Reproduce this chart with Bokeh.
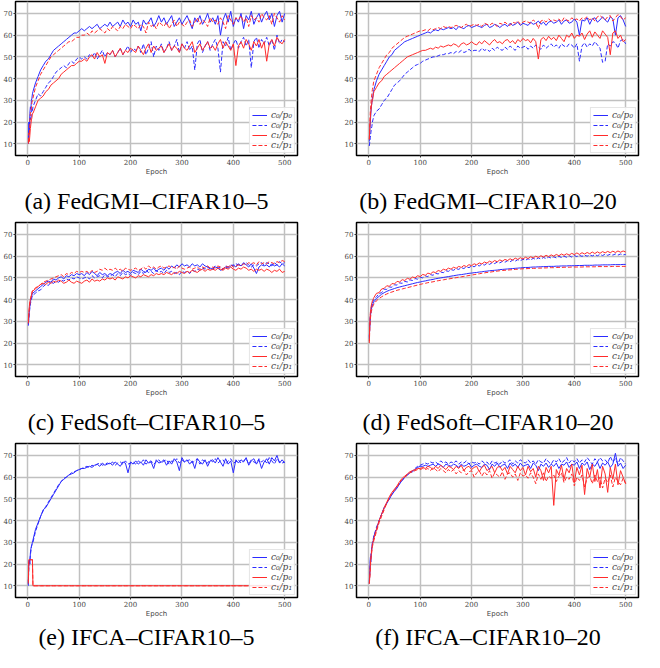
from bokeh.plotting import figure
from bokeh.layouts import column, row
from bokeh.models import Range1d, FixedTicker, Div
from bokeh.embed import file_html
from bokeh.resources import INLINE

EPOCHS = [1, 2, 3, 4, 5, 6, 7, 8, 9] + list(range(10, 501, 5))
Y_TICKS = [10, 20, 30, 40, 50, 60, 70]
X_TICKS = [0, 100, 200, 300, 400, 500]
SERIES_NAMES = ["c\u2080/p\u2080", "c\u2080/p\u2081", "c\u2081/p\u2080", "c\u2081/p\u2081"]
CAPTIONS = ["(a) FedGMI\u2013CIFAR10\u20135", "(b) FedGMI\u2013CIFAR10\u201320",
            "(c) FedSoft\u2013CIFAR10\u20135", "(d) FedSoft\u2013CIFAR10\u201320",
            "(e) IFCA\u2013CIFAR10\u20135", "(f) IFCA\u2013CIFAR10\u201320"]

# (a) FedGMI-CIFAR10-5
A_C0P0 = [12, 20, 17, 24, 27, 26, 30, 31, 33,
          34, 38, 41, 44, 46, 48, 49, 51, 53, 54,
          55, 56, 57, 58, 59, 60, 61, 61, 62, 63,
          62, 63, 64, 63, 64, 65, 63, 64, 65, 64,
          66, 64, 65, 66, 64, 67, 65, 66, 64, 67,
          65, 66, 62, 67, 65, 66, 68, 64, 66, 69,
          66, 68, 65, 67, 69, 64, 66, 68, 65, 67,
          69, 66, 63, 68, 66, 69, 65, 67, 70, 66,
          68, 65, 69, 60, 67, 70, 66, 71, 64, 68,
          66, 70, 63, 69, 67, 71, 65, 68, 70, 66,
          69, 71, 67, 70, 64, 69, 71, 66, 70]
A_C0P1 = [10, 13, 16, 19, 22, 21, 24, 26, 25,
          27, 30, 33, 32, 34, 36, 38, 39, 41, 43,
          44, 45, 46, 45, 47, 48, 47, 49, 50, 49,
          50, 49, 51, 50, 52, 49, 51, 53, 50, 52,
          51, 53, 50, 52, 54, 51, 53, 55, 52, 54,
          53, 55, 52, 56, 51, 54, 57, 50, 55, 53,
          56, 52, 54, 57, 53, 55, 58, 52, 56, 54,
          57, 53, 55, 44, 56, 58, 52, 55, 57, 53,
          56, 58, 54, 43, 57, 55, 59, 53, 56, 58,
          54, 57, 59, 55, 58, 45, 57, 59, 54, 58,
          56, 59, 55, 58, 53, 60, 56, 58, 57]
A_C1P0 = [10, 12, 11, 14, 17, 19, 21, 22, 24,
          24, 27, 30, 31, 32, 34, 35, 37, 38, 39,
          40, 42, 43, 44, 45, 46, 46, 47, 48, 48,
          49, 48, 50, 51, 49, 52, 50, 51, 47, 52,
          51, 53, 50, 52, 54, 51, 53, 52, 54, 53,
          52, 55, 53, 51, 54, 56, 52, 55, 53, 54,
          55, 52, 54, 56, 53, 55, 54, 52, 56, 54,
          53, 55, 57, 52, 54, 56, 53, 55, 57, 54,
          55, 53, 56, 58, 54, 57, 55, 53, 56, 46,
          55, 57, 54, 58, 56, 53, 57, 55, 58, 54,
          57, 48, 56, 58, 55, 59, 57, 56, 58]
A_C1P1 = [11, 15, 14, 20, 24, 25, 27, 29, 30,
          31, 36, 39, 42, 44, 46, 48, 50, 51, 52,
          53, 54, 55, 56, 57, 57, 58, 59, 59, 60,
          60, 61, 60, 62, 61, 62, 63, 62, 61, 63,
          62, 64, 63, 62, 64, 63, 65, 64, 63, 65,
          64, 63, 65, 64, 61, 66, 64, 65, 63, 66,
          65, 64, 66, 63, 65, 67, 64, 66, 65, 64,
          66, 67, 64, 66, 68, 65, 67, 66, 64, 68,
          66, 67, 65, 68, 66, 63, 69, 67, 65, 68,
          67, 69, 66, 68, 64, 69, 67, 68, 66, 70,
          68, 67, 69, 65, 70, 68, 66, 69, 67]

# (b) FedGMI-CIFAR10-20
B_C0P0 = [11, 16, 20, 24, 27, 29, 31, 32, 34,
          35, 39, 42, 44, 46, 48, 50, 51, 53, 54,
          55, 56, 57, 57.5, 58, 58.5, 59, 59.5, 60, 60.5,
          61, 61.5, 61, 62, 62.5, 62, 63, 62.5, 63, 63.5,
          63, 63.5, 62.5, 64, 63.5, 63, 64, 64.5, 63.5, 64,
          64.5, 64, 63.5, 64.5, 65, 63.5, 64, 65, 64.5, 63.5,
          64.5, 65, 64, 65.5, 64.5, 65, 66, 64.5, 65.5, 65,
          64.5, 66, 65, 65.5, 66.5, 65, 66, 64.5, 66, 66.5,
          65.5, 66, 67, 65, 66.5, 67, 65.5, 66, 67.5, 66,
          60, 67, 66.5, 68, 65, 67.5, 68, 66, 67, 68.5,
          67, 66, 68.5, 67.5, 60, 68, 69, 67, 64]
B_C0P1 = [9, 11, 13, 15, 17, 18, 20, 21, 22,
          23, 25, 26, 28, 30, 31, 33, 35, 37, 38,
          39, 40.5, 42, 43, 44, 45, 46, 46.5, 47, 48,
          48.5, 49, 49.5, 50, 50, 50.5, 51, 51, 51.5, 51.5,
          52, 51.5, 52.5, 52, 53, 52, 52.5, 53.5, 52.5, 53,
          53, 52.5, 54, 53, 53.5, 52.5, 54, 53, 54.5, 53.5,
          53, 54.5, 53.5, 55, 54, 53, 55, 54, 54.5, 55,
          53.5, 55, 54, 55.5, 54.5, 53.5, 55.5, 54, 55, 56,
          54.5, 55.5, 54, 56, 55, 54.5, 56, 55.5, 54, 56,
          48, 55, 56.5, 54.5, 56, 55, 57, 55.5, 54, 47.5,
          48, 56, 55, 57, 56.5, 54, 57.5, 58, 56]
B_C1P0 = [12, 18, 22, 25, 27, 29, 30, 31, 33,
          34, 36, 38, 39, 41, 42, 43, 44, 45, 46,
          47, 48, 49, 50, 50.5, 51, 51.5, 52, 52.5, 53,
          53, 53.5, 54, 53.5, 54.5, 54, 55, 54.5, 55, 55.5,
          55, 56, 55.5, 54.5, 56, 56.5, 55.5, 56, 57, 56,
          55.5, 57, 56, 57.5, 56.5, 55.5, 57, 58, 56.5, 57,
          56, 57.5, 58, 56.5, 57.5, 56, 58, 57, 58.5, 57.5,
          58, 56.5, 58.5, 57, 49, 58, 59, 57.5, 59.5, 58,
          59, 57.5, 60, 58.5, 57, 60, 59, 61, 58.5, 60,
          59.5, 61, 58, 60.5, 62, 59, 61.5, 60, 58.5, 62,
          60.5, 59, 51, 61, 62, 58.5, 60, 57, 58]
B_C1P1 = [12, 20, 25, 28, 31, 33, 35, 36, 38,
          39, 42, 45, 47, 49, 51, 52, 54, 55, 56,
          57, 58, 59, 59.5, 60, 60.5, 61, 61.5, 62, 62,
          62.5, 62, 63, 62.5, 63, 63.5, 63, 64, 63.5, 64,
          63.5, 64, 64.5, 64, 63.5, 64.5, 65, 64, 64.5, 65,
          64.5, 65, 64, 65.5, 65, 64.5, 65.5, 65, 64, 65.5,
          65, 66, 65, 64.5, 66, 65.5, 66.5, 65, 66, 66.5,
          66, 65.5, 67, 66, 63, 66.5, 67, 66, 67.5, 66.5,
          67, 66.5, 67.5, 66, 68, 67, 66.5, 68, 67, 67.5,
          66.5, 68, 67.5, 68.5, 67, 68, 66.5, 68.5, 69, 68,
          67, 68.5, 69, 66.5, 68, 69.5, 68.5, 67, 68]

# (c) FedSoft-CIFAR10-5
C_C0P0 = [28, 31, 35, 37, 39, 40, 41, 42, 43,
          43, 44, 45, 46, 47, 48, 48.5, 48, 49.5, 49,
          50, 50.5, 49.5, 51, 50.5, 51.5, 51, 52, 51.5, 52,
          51, 52.5, 51.5, 53, 52, 51, 52.5, 51.5, 52, 51,
          52, 51.5, 52.5, 53, 52, 53.5, 52.5, 53, 52, 53.5,
          53, 52.5, 54, 53, 52.5, 54, 53.5, 54.5, 53, 54,
          54.5, 53.5, 55, 54, 55.5, 54.5, 56, 55, 56.5, 55.5,
          56, 55, 56.5, 55.5, 56, 55, 56.5, 55.5, 55, 54.5,
          54, 55, 54.5, 53.5, 54, 55, 54.5, 55.5, 56, 55,
          56.5, 55.5, 57, 56, 55, 56.5, 54.5, 52, 55, 56,
          55.5, 56, 55, 56.5, 55.5, 56, 55, 56.5, 55.5]
C_C0P1 = [29, 32, 34, 36, 38, 39, 40, 41, 42,
          42, 43, 44, 44.5, 46, 47, 46.5, 48, 47.5, 48.5,
          48, 49, 48.5, 49.5, 49, 50, 49.5, 50.5, 50, 49.5,
          50, 50.5, 49.5, 51, 50, 50.5, 51, 50, 51.5, 50.5,
          51, 51.5, 50.5, 52, 51, 52.5, 51.5, 52, 51, 52.5,
          52, 51.5, 53, 52, 53.5, 52.5, 53, 52, 53.5, 52.5,
          53, 52, 53.5, 52.5, 53, 52, 52.5, 51.5, 53, 52.5,
          53, 52, 53.5, 53, 54, 53.5, 54.5, 54, 55, 54,
          54.5, 55.5, 54.5, 55, 54, 55.5, 55, 56, 55.5, 56.5,
          56, 55.5, 56.5, 57, 56, 55, 56, 55.5, 56.5, 57,
          56, 57, 56.5, 55.5, 57, 56, 57.5, 56.5, 57]
C_C1P0 = [30, 34, 37, 39, 40, 41, 42, 43, 44,
          44, 45, 46, 47, 47.5, 47, 48, 47.5, 48.5, 48,
          49, 48.5, 47.5, 48, 49, 48, 47.5, 48.5, 48, 47.5,
          48.5, 49, 48, 49.5, 48.5, 49, 48.5, 49.5, 49, 50,
          49.5, 50, 49, 50.5, 50, 49.5, 50.5, 50, 51, 50.5,
          50, 51, 50.5, 51.5, 51, 50.5, 51.5, 51, 52, 51.5,
          52, 51.5, 52.5, 52, 51.5, 52.5, 52, 53, 52.5, 52,
          53, 52.5, 53.5, 53, 52.5, 53.5, 54, 53, 54, 53.5,
          54, 53.5, 54.5, 54, 53.5, 54.5, 54, 55, 54, 53.5,
          54.5, 54, 55, 54.5, 53.5, 54, 53, 54, 53.5, 54,
          53, 54, 53.5, 52.5, 53.5, 53, 54, 52.5, 53]
C_C1P1 = [29, 33, 36, 38, 40, 41, 42, 43, 44,
          44, 45.5, 46, 47, 48, 48.5, 49, 49.5, 50, 50.5,
          51, 51.5, 50.5, 52, 51.5, 52.5, 52, 53, 52.5, 53,
          52.5, 53, 52, 53.5, 52.5, 53, 54, 53.5, 54.5, 53.5,
          54, 53.5, 54.5, 53.5, 54, 53, 54.5, 54, 53.5, 54,
          54.5, 53.5, 54, 55, 54, 55.5, 54.5, 55, 54, 55,
          55.5, 54.5, 55, 55.5, 54.5, 55, 54, 55.5, 54.5, 54,
          54.5, 55, 54, 54.5, 55, 54, 55, 54.5, 55.5, 54.5,
          55, 54.5, 55.5, 55, 54, 55.5, 55, 56, 55, 55.5,
          56, 55.5, 56.5, 56, 57, 56.5, 57, 56, 57.5, 56.5,
          57, 56.5, 57.5, 57, 56.5, 57.5, 57, 58, 57.5]

# (d) FedSoft-CIFAR10-20
D_C0P0 = [23, 28, 32, 34, 35.5, 36.5, 37.5, 38, 38.5,
          39, 40.5, 41.5, 42.5, 43.2, 43.8, 44.3, 44.7, 45.1, 45.5,
          45.8, 46.1, 46.4, 46.7, 47, 47.3, 47.6, 47.9, 48.1, 48.4,
          48.6, 48.9, 49.1, 49.3, 49.6, 49.8, 50, 50.2, 50.4, 50.6,
          50.8, 51, 51.2, 51.4, 51.5, 51.7, 51.9, 52.1, 52.2, 52.4,
          52.5, 52.7, 52.8, 53, 53.1, 53.3, 53.4, 53.5, 53.6, 53.8,
          53.9, 54, 54.1, 54.2, 54.3, 54.4, 54.5, 54.6, 54.7, 54.8,
          54.8, 54.9, 55, 55, 55.1, 55.1, 55.2, 55.2, 55.3, 55.3,
          55.3, 55.4, 55.4, 55.5, 55.5, 55.5, 55.6, 55.6, 55.6, 55.7,
          55.7, 55.7, 55.8, 55.8, 55.8, 55.8, 55.9, 55.9, 55.9, 56,
          56, 56, 56, 56.1, 56.1, 56.1, 56.1, 56.2, 56.2]
D_C0P1 = [22, 29, 33, 35, 36.5, 37.5, 38.5, 39, 39.5,
          40.2, 41.3, 42.8, 43.2, 44.8, 44.7, 45.8, 45.7, 46.8, 46.7,
          47.7, 47.5, 48.4, 48.1, 49.1, 48.8, 49.7, 49.4, 50.3, 50,
          50.9, 50.6, 51.5, 51.2, 52.1, 51.8, 52.7, 52.4, 53.3, 53,
          53.8, 53.5, 54.3, 53.9, 54.7, 54.3, 55.1, 54.7, 55.5, 55.1,
          55.9, 55.5, 56.3, 55.9, 56.7, 56.2, 57, 56.6, 57.3, 56.9,
          57.6, 57.2, 57.9, 57.4, 58.2, 57.7, 58.4, 57.9, 58.6, 58.1,
          58.8, 58.3, 59, 58.5, 59.2, 58.7, 59.4, 58.9, 59.6, 59.1,
          59.7, 59.2, 59.9, 59.4, 60, 59.5, 60.2, 59.6, 60.3, 59.8,
          60.4, 59.9, 60.5, 60, 60.6, 60.1, 60.7, 60.2, 60.8, 60.3,
          60.9, 60.4, 60.9, 60.5, 61, 60.5, 61, 60.6, 60.8]
D_C1P0 = [21, 30, 34, 36, 37.5, 38.5, 39.5, 40, 40.5,
          41, 42.9, 43.2, 44.9, 45.2, 46.4, 46.1, 47.4, 47.2, 48.4,
          48.1, 49.2, 48.8, 49.8, 49.4, 50.4, 50, 51, 50.6, 51.6,
          51.2, 52.2, 51.8, 52.8, 52.4, 53.4, 53, 54, 53.6, 54.5,
          54, 54.9, 54.4, 55.3, 54.8, 55.7, 55.2, 56.1, 55.6, 56.5,
          56, 56.9, 56.4, 57.3, 56.8, 57.7, 57.1, 58, 57.4, 58.3,
          57.7, 58.5, 58, 58.8, 58.2, 59.1, 58.5, 59.3, 58.7, 59.5,
          58.9, 59.7, 59.2, 60, 59.4, 60.2, 59.6, 60.4, 59.8, 60.6,
          60, 60.8, 60.2, 61, 60.4, 61.1, 60.5, 61.3, 60.7, 61.5,
          60.8, 61.6, 61, 61.7, 61.1, 61.9, 61.2, 62, 61.3, 62.1,
          61.5, 62.2, 61.6, 62.3, 61.7, 62.4, 61.8, 62.4, 61.9]
D_C1P1 = [20, 27, 31, 33, 34.5, 35.5, 36.5, 37, 37.5,
          38, 39.5, 40.5, 41.3, 42, 42.6, 43.1, 43.5, 43.9, 44.3,
          44.6, 44.9, 45.2, 45.5, 45.8, 46.1, 46.4, 46.7, 47, 47.3,
          47.5, 47.8, 48, 48.2, 48.5, 48.7, 48.9, 49.1, 49.3, 49.5,
          49.7, 49.9, 50.1, 50.3, 50.5, 50.7, 50.9, 51.1, 51.3, 51.5,
          51.7, 51.9, 52.1, 52.3, 52.5, 52.6, 52.8, 53, 53.1, 53.3,
          53.4, 53.5, 53.6, 53.7, 53.8, 53.9, 54, 54.1, 54.2, 54.2,
          54.3, 54.3, 54.4, 54.4, 54.5, 54.5, 54.6, 54.6, 54.7, 54.7,
          54.7, 54.8, 54.8, 54.8, 54.9, 54.9, 54.9, 55, 55, 55,
          55, 55, 55.1, 55.1, 55.1, 55.1, 55.1, 55.2, 55.2, 55.2,
          55.2, 55.2, 55.2, 55.3, 55.3, 55.3, 55.3, 55.3, 55.3]

# (e) IFCA-CIFAR10-5
E_C0P0 = [10, 21, 22, 20, 25, 27, 28, 29, 30,
          31, 36, 39, 42, 45, 46, 48, 50, 52, 54,
          56, 58, 59, 60, 61, 61.5, 62, 63, 63.5, 64,
          64, 64.5, 65, 64.5, 65.5, 66, 65, 66.5, 65.5, 66,
          66.5, 65.5, 67, 66, 65, 67, 66.5, 62, 67, 66,
          67.5, 66, 67, 65.5, 68, 66.5, 67, 64, 68, 66.5,
          67, 68, 65.5, 67.5, 66, 68.5, 67, 63, 69, 67,
          68, 66, 67.5, 64, 68.5, 67, 66, 68, 65, 67.5,
          68, 66.5, 69, 67, 65, 68.5, 66, 67.5, 62, 68,
          66.5, 68, 67, 69, 65.5, 67.5, 68.5, 66, 68, 64,
          67, 68.5, 66, 69, 67.5, 70, 66.5, 68, 66.5]
E_C0P1 = [11, 20, 21, 22, 24, 26, 28, 29, 29.5,
          30, 35, 38.5, 42, 44.5, 46.5, 48.5, 50.5, 52.5, 54.5,
          56.5, 58, 59.5, 60, 61, 62, 62.5, 63, 63.5, 64,
          64.5, 65, 64.5, 65.5, 65, 66, 66.5, 65.5, 66, 66.5,
          66, 67, 65.5, 66.5, 67, 66, 67.5, 66, 66.5, 67,
          66, 67.5, 66.5, 68, 66, 67, 67.5, 66, 67, 68,
          66.5, 67.5, 68, 66, 67.5, 67, 68.5, 66.5, 68, 67,
          67.5, 68, 66.5, 67.5, 68.5, 66, 68, 67, 66.5, 68,
          67, 68.5, 66.5, 67.5, 68, 66, 67.5, 68.5, 66.5, 67,
          68, 66.5, 67.5, 68.5, 66, 68, 67, 66.5, 68.5, 67,
          68, 66.5, 69, 67.5, 66, 68.5, 67, 66.5, 67]
E_C1P0 = [12, 22, 22, 22, 22, 22, 22, 22, 22] + [10] * 99
E_C1P1 = [11, 21, 22, 22, 22, 22, 22, 22, 22] + [10] * 99

# (f) IFCA-CIFAR10-20
F_C0P0 = [11, 16, 23, 21, 25, 28, 29, 30, 31,
          33, 36, 40, 43, 46, 48, 50, 52, 53.5, 55,
          57, 58.5, 60, 61, 62, 62.5, 63.5, 64.5, 65, 65,
          65.5, 65, 65.5, 66, 65, 66, 65.5, 64.5, 66, 65.5,
          65, 66, 65.5, 64.5, 66, 65, 65.5, 66.5, 64.5, 65.5,
          66, 65, 64.5, 66, 65.5, 63.5, 66, 65, 66.5, 64.5,
          65.5, 66, 64, 66.5, 65, 66, 64.5, 66.5, 65, 65.5,
          66, 64, 66.5, 65.5, 63, 66, 65, 66.5, 64.5, 66,
          65, 66.5, 64, 66, 65.5, 67, 64.5, 66, 65.5, 67,
          64, 66.5, 65.5, 67, 63.5, 66, 65, 67, 64, 66.5,
          65.5, 67, 64.5, 66, 71, 65, 66.5, 64, 65.5]
F_C0P1 = [12, 17, 22, 24, 26, 28, 30, 31, 32,
          33, 37, 40, 43, 46, 48, 50, 52, 54, 55.5,
          57, 58.5, 60, 61, 62, 63, 64, 65, 65.5, 66,
          66.5, 66, 67, 66.5, 67, 66, 67.5, 66.5, 67, 66,
          67, 66.5, 67.5, 66, 67, 66.5, 67.5, 66, 67, 66.5,
          67, 66, 67.5, 66.5, 67, 65.5, 67.5, 66.5, 67, 66,
          67.5, 66.5, 67, 68, 66, 67.5, 66.5, 68, 67, 66.5,
          68, 66.5, 67.5, 66, 68, 67, 66.5, 68.5, 67, 66,
          68, 67, 68.5, 66.5, 67.5, 69, 66.5, 68, 67, 68.5,
          66.5, 68, 67, 69, 67.5, 66, 68.5, 67, 69, 67.5,
          68, 66.5, 69.5, 67, 68.5, 66, 69, 67.5, 66]
F_C1P0 = [11, 15, 20, 23, 25, 27, 29, 30, 31,
          32, 36, 40, 43, 46, 48.5, 51, 53, 54.5, 56,
          58, 59.5, 60.5, 61.5, 62.5, 63, 63.5, 64, 64, 64.5,
          64, 65, 64.5, 63.5, 65, 64, 65.5, 64.5, 63.5, 65,
          64.5, 63.5, 65, 64, 65.5, 63, 64.5, 65, 63.5, 64.5,
          65, 62.5, 64.5, 65.5, 63, 64, 65, 62, 64.5, 65,
          63, 64.5, 61.5, 65, 63.5, 62, 65, 63, 64.5, 61,
          65, 62.5, 64, 60, 65, 63, 58.5, 64.5, 62, 65,
          47, 63.5, 61, 65.5, 59, 64, 62, 66, 57.5, 64.5,
          61, 65.5, 52, 64, 60, 66, 58, 63.5, 55, 65,
          61.5, 53, 64.5, 59, 66, 56.5, 63, 60, 57]
F_C1P1 = [11, 14, 18, 22, 24, 26, 28, 29, 30,
          31, 35, 39, 42, 45, 48, 50.5, 52.5, 54, 55.5,
          57.5, 59, 60, 61, 62, 62.5, 63, 63.5, 63.5, 64,
          63.5, 64, 63, 64.5, 63.5, 62.5, 64, 63, 62, 63.5,
          62.5, 63.5, 61.5, 63, 62, 63.5, 61, 62.5, 63, 60,
          62, 63, 60.5, 62.5, 61, 63, 59.5, 62, 61, 60,
          62.5, 59, 61.5, 62, 60, 61.5, 58.5, 62, 60.5, 61,
          59.5, 62, 60, 57, 61.5, 59, 62, 58, 60.5, 59.5,
          61, 58, 60.5, 62, 57.5, 60, 59, 61.5, 56, 60,
          58.5, 61, 55.5, 59.5, 60.5, 57, 61, 58, 60, 55,
          59.5, 57.5, 61, 55.5, 60, 58, 56.5, 59.5, 57]

PANELS = [
    [A_C0P0, A_C0P1, A_C1P0, A_C1P1],
    [B_C0P0, B_C0P1, B_C1P0, B_C1P1],
    [C_C0P0, C_C0P1, C_C1P0, C_C1P1],
    [D_C0P0, D_C0P1, D_C1P0, D_C1P1],
    [E_C0P0, E_C0P1, E_C1P0, E_C1P1],
    [F_C0P0, F_C0P1, F_C1P0, F_C1P1],
]
COLORS = ["#2b2bff", "#2b2bff", "#ff2b2b", "#ff2b2b"]
DASHES = ["solid", "4 2", "solid", "4 2"]
FIG_H = 181
CAP_H = [40, 40, 29]
CAP_CENTER = [146.5, 166]


def make_panel(idx):
    col = idx % 2
    r = idx // 2
    if col == 0:
        bl, br = 15, 25
    else:
        bl, br = 34, 6
    p = figure(width=322, height=FIG_H, output_backend="svg", toolbar_location=None,
               x_range=Range1d(-23.95, 524.95), y_range=Range1d(4.6, 75.5),
               min_border_left=bl, min_border_right=br, min_border_top=1,
               min_border_bottom=26, background_fill_color="white",
               border_fill_color="white")
    p.outline_line_color = "black"
    p.outline_line_width = 1.5
    p.xaxis.ticker = FixedTicker(ticks=X_TICKS)
    p.yaxis.ticker = FixedTicker(ticks=Y_TICKS)
    for ax in (p.xaxis[0], p.yaxis[0]):
        ax.axis_line_color = None
        ax.major_tick_in = 0
        ax.major_tick_out = 2
        ax.major_tick_line_color = "#333333"
        ax.minor_tick_line_color = None
        ax.major_label_text_font = "DejaVu Serif"
        ax.major_label_text_font_size = "7px"
        ax.major_label_text_color = "#444444"
        ax.major_label_standoff = 1
    p.xaxis.axis_label = "Epoch"
    p.xaxis.axis_label_text_font = "DejaVu Sans"
    p.xaxis.axis_label_text_font_size = "7px"
    p.xaxis.axis_label_text_font_style = "normal"
    p.xaxis.axis_label_text_color = "#444444"
    p.xaxis.axis_label_standoff = 0
    p.grid.grid_line_color = "#c0c0c0"
    p.grid.grid_line_width = 1.5

    for vals, name, color, dash in zip(PANELS[idx], SERIES_NAMES, COLORS, DASHES):
        x = EPOCHS[:len(vals)]
        y = vals[:len(x)]
        p.line(x, y, line_color=color, line_width=1, line_alpha=1.0,
               line_dash=dash, legend_label=name)

    lg = p.legend[0]
    lg.location = "bottom_right"
    lg.margin = 2
    lg.padding = 2
    lg.spacing = 0
    lg.label_text_font = "DejaVu Serif"
    lg.label_text_font_style = "italic"
    lg.label_text_font_size = "9px"
    lg.label_height = 10
    lg.glyph_height = 10
    lg.glyph_width = 15
    lg.label_standoff = 4
    lg.border_line_color = "#cccccc"
    lg.background_fill_alpha = 0.85

    h = CAP_H[r]
    box_w = 2 * CAP_CENTER[col] if col == 0 else 2 * (322 - CAP_CENTER[col])
    left = 0 if col == 0 else 322 - box_w
    html = ('<div style="position:absolute;top:0;left:%spx;width:%spx;height:%dpx;'
            'font-family:\'Liberation Serif\',serif;font-size:24px;line-height:%dpx;'
            'text-align:center;white-space:nowrap;color:#000;margin:0;padding:0;">%s</div>'
            % (left, box_w, h, h, CAPTIONS[idx]))
    cap = Div(text=html, width=322, height=h, margin=0,
              styles={"position": "relative", "width": "322px", "height": "%dpx" % h})
    return column(p, cap, spacing=0)


cells = [make_panel(i) for i in range(6)]
layout = column(row(cells[0], cells[1], spacing=0),
                row(cells[2], cells[3], spacing=0),
                row(cells[4], cells[5], spacing=0), spacing=0)
open("out.html", "w").write(file_html(layout, INLINE))
